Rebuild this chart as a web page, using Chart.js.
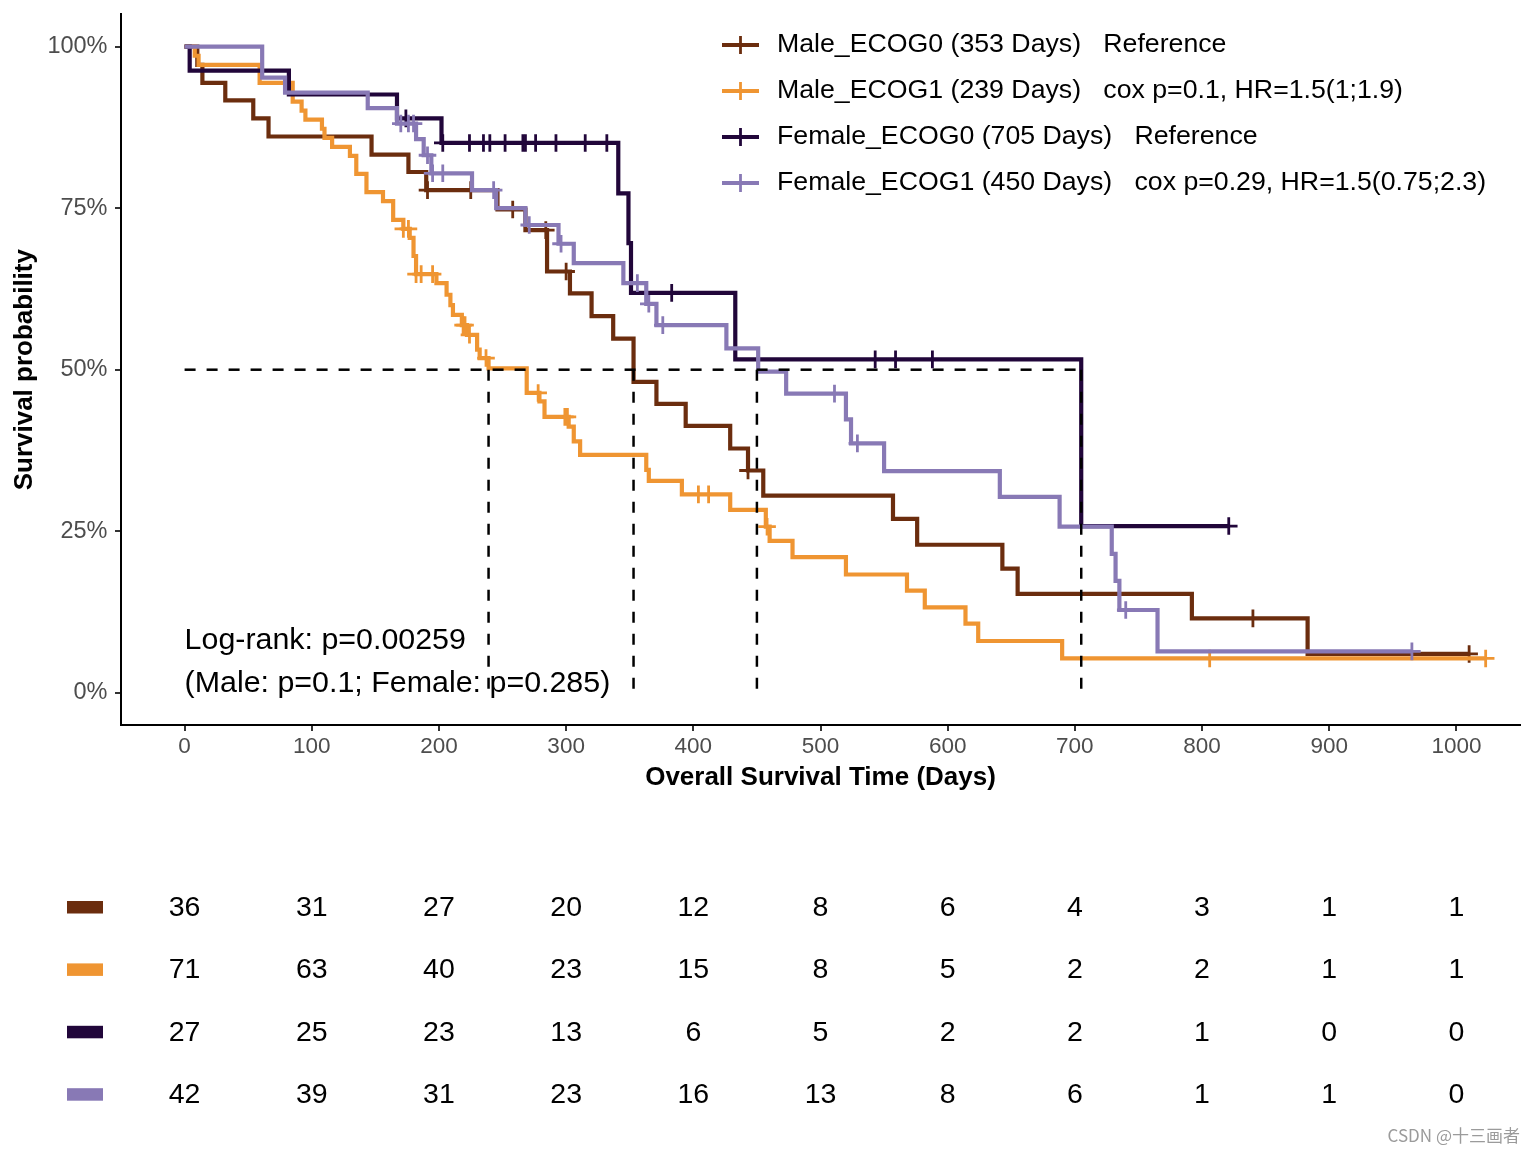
<!DOCTYPE html>
<html><head><meta charset="utf-8">
<script src="https://cdn.jsdelivr.net/npm/chart.js@4.4.1/dist/chart.umd.min.js"></script>
<style>
html,body{margin:0;padding:0;background:#fff;}
#wrap{position:relative;width:1536px;height:1152px;overflow:hidden;background:#fff;}
#main{position:absolute;left:0;top:0;width:1536px;height:800px;}
#risk{position:absolute;left:0;top:800px;width:1536px;height:352px;}
#wm{position:absolute;right:16px;top:1122px;font:17px "Noto Sans CJK SC","Liberation Sans",sans-serif;color:#9b9b9b;white-space:nowrap;}
</style></head>
<body><div id="wrap">
<canvas id="main" width="1536" height="800"></canvas>
<canvas id="risk" width="1536" height="352"></canvas>
<div id="wm">CSDN @十三画者</div>
</div>
<script>
const FONT = '"Liberation Sans", Arial, Helvetica, sans-serif';

const groups = ['Male_ECOG0', 'Male_ECOG1', 'Female_ECOG0', 'Female_ECOG1'];
const groupColors = ['#6B2D0E', '#EF9532', '#21063A', '#8879B5'];
const medianDays = [353, 239, 705, 450];
const coxLabels = ['Reference', 'cox p=0.1, HR=1.5(1;1.9)', 'Reference', 'cox p=0.29, HR=1.5(0.75;2.3)'];
const logRankText = ['Log-rank: p=0.00259', '(Male: p=0.1; Female: p=0.285)'];

const maleEcog0Time = [0, 10, 14, 32, 54, 66, 147, 176, 190, 246, 268, 285, 303, 320, 337, 353, 371, 394, 429, 443, 455, 557, 576, 643, 655, 792, 883, 1010];
const maleEcog0Surv = [100, 97.2, 94.4, 91.7, 88.9, 86.1, 83.3, 80.6, 77.8, 74.8, 71.6, 65.2, 61.8, 58.3, 54.8, 48.1, 44.7, 41.3, 37.8, 34.4, 30.5, 26.9, 22.9, 19.2, 15.3, 11.5, 6.0, 6.0];
const maleEcog0Censor = [191, 225, 258, 284, 300, 443, 840, 1010];

const maleEcog1Time = [0, 8, 11, 59, 85, 92, 95, 108, 110, 116, 130, 135, 143, 156, 164, 172, 177, 180, 182, 198, 206, 209, 211, 218, 222, 230, 232, 239, 269, 279, 283, 302, 306, 311, 363, 365, 391, 429, 457, 460, 478, 520, 568, 582, 614, 624, 690, 1023];
const maleEcog1Surv = [100, 98.6, 97.2, 94.4, 91.5, 90.1, 88.7, 87.3, 85.9, 84.5, 83.1, 80.3, 77.5, 76.1, 73.2, 71.8, 70.4, 67.6, 64.8, 63.4, 61.6, 60.0, 58.5, 56.9, 55.4, 53.1, 51.8, 50.2, 46.4, 45.1, 42.7, 41.2, 38.9, 36.8, 34.5, 32.8, 30.7, 28.3, 25.7, 23.5, 21.0, 18.3, 15.8, 13.2, 10.7, 8.0, 5.3, 5.3];
const maleEcog1Censor = [172, 176, 182, 186, 195, 219, 220.5, 224, 237, 278, 299, 301, 404, 412, 458, 806, 1023];

const femaleEcog0Time = [0, 4, 82, 167, 202, 341, 349, 351, 433, 705, 821];
const femaleEcog0Surv = [100, 96.3, 92.6, 88.9, 85.1, 77.3, 69.6, 61.9, 51.6, 25.8, 25.8];
const femaleEcog0Censor = [174, 203, 224, 235, 240, 252, 266, 268, 276, 292, 315, 332, 383, 543, 559, 588, 821];

const femaleEcog1Time = [0, 61, 79, 144, 167, 182, 188, 194, 226, 245, 268, 294, 306, 345, 363, 371, 426, 451, 473, 520, 524, 550, 641, 688, 729, 732, 735, 765, 965];
const femaleEcog1Surv = [100, 95.2, 92.9, 90.5, 88.1, 85.7, 83.2, 80.4, 77.8, 75.0, 72.4, 69.5, 66.5, 63.4, 60.2, 56.9, 53.3, 49.7, 46.3, 42.3, 38.6, 34.3, 30.3, 25.7, 21.5, 17.3, 12.8, 6.4, 6.4];
const femaleEcog1Censor = [170, 176, 180, 191, 195, 203, 243, 271, 296, 356, 365, 376, 511, 529, 740, 965];

const xTickValues = [0, 100, 200, 300, 400, 500, 600, 700, 800, 900, 1000];
const yTickValues = [0, 25, 50, 75, 100];

const riskTimes = [0, 100, 200, 300, 400, 500, 600, 700, 800, 900, 1000];
const riskMaleEcog0 = [36, 31, 27, 20, 12, 8, 6, 4, 3, 1, 1];
const riskMaleEcog1 = [71, 63, 40, 23, 15, 8, 5, 2, 2, 1, 1];
const riskFemaleEcog0 = [27, 25, 23, 13, 6, 5, 2, 2, 1, 0, 0];
const riskFemaleEcog1 = [42, 39, 31, 23, 16, 13, 8, 6, 1, 1, 0];

function survAt(times, surv, t) {
  let s = surv[0];
  for (let i = 0; i < times.length; i++) { if (times[i] <= t) s = surv[i]; }
  return s;
}

const curves = [
  { t: maleEcog0Time, s: maleEcog0Surv, c: maleEcog0Censor },
  { t: maleEcog1Time, s: maleEcog1Surv, c: maleEcog1Censor },
  { t: femaleEcog0Time, s: femaleEcog0Surv, c: femaleEcog0Censor },
  { t: femaleEcog1Time, s: femaleEcog1Surv, c: femaleEcog1Censor }
];

const LINE_W = 4.2;
const datasets = [];
curves.forEach((cv, i) => {
  datasets.push({
    type: 'line', label: groups[i],
    data: cv.t.map((t, k) => ({ x: t, y: cv.s[k] })),
    borderColor: groupColors[i], borderWidth: LINE_W, pointRadius: 0, pointHoverRadius: 0,
    stepped: true, fill: false, tension: 0, order: 10 - 2 * i
  });
  datasets.push({
    type: 'scatter', label: groups[i] + ' censored',
    data: cv.c.map(t => ({ x: t, y: survAt(cv.t, cv.s, t) })),
    pointStyle: 'cross', pointRadius: 8.8, pointHoverRadius: 8.8,
    pointBorderWidth: 2.8, pointBorderColor: groupColors[i], pointBackgroundColor: groupColors[i],
    borderColor: groupColors[i], backgroundColor: groupColors[i],
    showLine: false, order: 9 - 2 * i
  });
});
const maxMedian = Math.max(...medianDays);
const dashStyle = { type: 'line', borderColor: '#000', borderWidth: 2.5, borderDash: [11, 11], pointRadius: 0, pointHoverRadius: 0, fill: false, order: 0 };
datasets.push(Object.assign({ label: 'median-h', data: [{ x: 0, y: 50 }, { x: maxMedian, y: 50 }] }, dashStyle));
medianDays.forEach((m, i) => {
  datasets.push(Object.assign({ label: 'median-v' + i, data: [{ x: m, y: 50 }, { x: m, y: 0 }] }, dashStyle));
});

const mainOverlay = {
  id: 'mainOverlay',
  afterDatasetsDraw(chart) {
    const ctx = chart.ctx, xs = chart.scales.x, ys = chart.scales.y;
    ctx.save();
    ctx.fillStyle = '#000';
    ctx.textAlign = 'left';
    ctx.textBaseline = 'alphabetic';
    ctx.font = '30.4px ' + FONT;
    const ax = xs.getPixelForValue(0), ay = ys.getPixelForValue(0);
    ctx.fillText(logRankText[1], ax, ay - 1);
    ctx.fillText(logRankText[0], ax, ay - 43.5);
    const lx = 722, lw = 37, tx = 777;
    groups.forEach((g, i) => {
      const cy = 45 + 46 * i;
      ctx.strokeStyle = groupColors[i];
      ctx.lineWidth = LINE_W;
      ctx.beginPath(); ctx.moveTo(lx, cy); ctx.lineTo(lx + lw, cy); ctx.stroke();
      ctx.lineWidth = 2.8;
      ctx.beginPath(); ctx.moveTo(lx + lw / 2, cy - 9); ctx.lineTo(lx + lw / 2, cy + 9); ctx.stroke();
      ctx.font = '26.7px ' + FONT;
      ctx.fillStyle = '#000';
      ctx.textBaseline = 'middle';
      ctx.fillText(g + ' (' + medianDays[i] + ' Days)   ' + coxLabels[i], tx, cy);
    });
    ctx.restore();
  }
};

const axisGrid = { drawOnChartArea: false, drawTicks: true, tickLength: 6, color: '#333', lineWidth: 2 };
const axisBorder = { display: true, color: '#000', width: 2 };

new Chart(document.getElementById('main'), {
  type: 'line',
  data: { datasets: datasets },
  options: {
    responsive: false, animation: false, devicePixelRatio: 1,
    layout: { padding: { left: 0, right: 16, top: 14.4, bottom: 0 } },
    plugins: { legend: { display: false }, tooltip: { enabled: false } },
    scales: {
      x: {
        type: 'linear', min: -50, max: 1050,
        afterBuildTicks: s => { s.ticks = xTickValues.map(v => ({ value: v })); },
        afterFit: s => { s.height = 75; s.paddingLeft = 0; s.paddingRight = 0; },
        ticks: { color: '#4D4D4D', font: { family: FONT, size: 22.5 }, padding: 2.5, maxRotation: 0, autoSkip: false, callback: v => String(v) },
        grid: axisGrid, border: axisBorder,
        title: { display: true, text: 'Overall Survival Time (Days)', color: '#000', font: { family: FONT, size: 26, weight: 'bold' }, padding: { top: 0, bottom: 7 } }
      },
      y: {
        type: 'linear', min: -5, max: 105,
        afterBuildTicks: s => { s.ticks = yTickValues.map(v => ({ value: v })); },
        afterFit: s => { s.width = 121; s.paddingTop = 0; s.paddingBottom = 0; },
        ticks: { color: '#4D4D4D', font: { family: FONT, size: 23.5 }, padding: 7.5, callback: v => v + '%' },
        grid: axisGrid, border: axisBorder,
        title: { display: true, text: 'Survival probability', color: '#000', font: { family: FONT, size: 26, weight: 'bold' }, padding: { top: 9, bottom: 0 } }
      }
    }
  },
  plugins: [mainOverlay]
});

const riskRows = [riskMaleEcog0, riskMaleEcog1, riskFemaleEcog0, riskFemaleEcog1];
const riskText = {
  id: 'riskText',
  afterDatasetsDraw(chart) {
    const ctx = chart.ctx;
    ctx.save();
    ctx.textAlign = 'center';
    ctx.textBaseline = 'middle';
    ctx.font = '28.5px ' + FONT;
    chart.data.datasets.forEach((ds, i) => {
      const meta = chart.getDatasetMeta(i);
      ctx.fillStyle = '#000';
      meta.data.forEach((pt, k) => { ctx.fillText(String(ds.data[k].n), pt.x, pt.y); });
      const y = chart.scales.y.getPixelForValue(i);
      ctx.fillStyle = groupColors[i];
      ctx.fillRect(chart.chartArea.left - 54, y - 7, 36, 12.5);
    });
    ctx.restore();
  }
};

new Chart(document.getElementById('risk'), {
  type: 'scatter',
  data: {
    datasets: groups.map((g, i) => ({
      label: g,
      data: riskTimes.map((t, k) => ({ x: t, y: g, n: riskRows[i][k] })),
      pointRadius: 0, pointHoverRadius: 0
    }))
  },
  options: {
    responsive: false, animation: false, devicePixelRatio: 1,
    layout: { padding: { left: 121, right: 16, top: 76.8, bottom: 25.6 } },
    plugins: { legend: { display: false }, tooltip: { enabled: false } },
    scales: {
      x: { type: 'linear', min: -50, max: 1050, display: false },
      y: { type: 'category', labels: groups, offset: true, display: false }
    }
  },
  plugins: [riskText]
});
</script>
</body></html>
